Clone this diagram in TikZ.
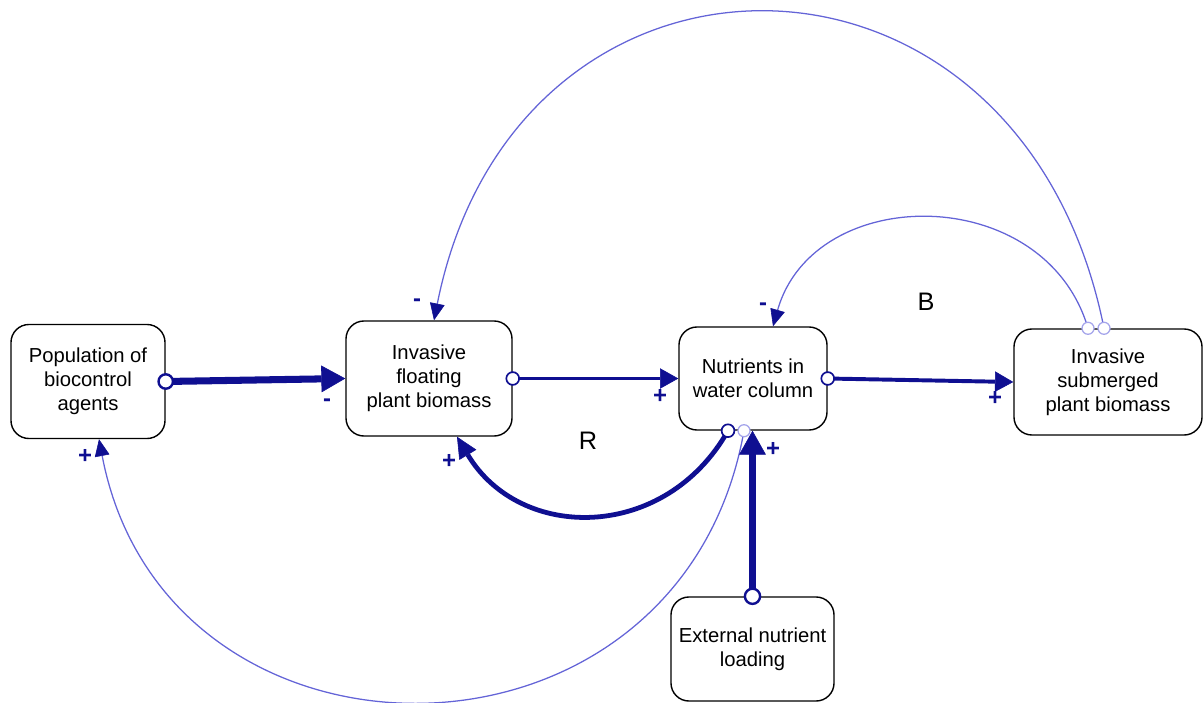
\documentclass[tikz,border=0pt]{standalone}
\usepackage{fontspec}
\setmainfont{Liberation Sans}
\usetikzlibrary{arrows.meta,calc}
\definecolor{navy}{RGB}{15,15,145}
\definecolor{lightb}{RGB}{100,100,215}
\definecolor{circb}{RGB}{165,165,235}
\begin{document}
\begin{tikzpicture}[x=0.025cm,y=-0.025cm,
  box/.style={draw=black, line width=1pt, rounded corners=0.45cm, fill=white, align=center, inner sep=0pt, font=\fontsize{14.4pt}{17.1pt}\selectfont},
  bigarr/.style={draw=navy, line width=5pt, -{Triangle[length=17pt,width=19pt,line width=0.4pt]}},
  midarr/.style={draw=navy, line width=2.8pt, -{Triangle[length=13pt,width=14.5pt,line width=0.4pt]}},
  curvarr/.style={draw=navy, line width=3.4pt, -{Triangle[length=15pt,width=14pt,line width=0.4pt]}},
  thinarr/.style={draw=lightb, line width=0.9pt, -{Triangle[length=12pt,width=10.5pt,color=navy,line width=0.4pt]}},
  dotbig/.style={draw=navy, fill=white, line width=1.7pt},
  dotmid/.style={draw=navy, fill=white, line width=1.2pt},
  dotthin/.style={draw=circb, fill=white, line width=0.9pt},
  sign/.style={text=navy, font=\fontsize{17pt}{17pt}\selectfont\bfseries, inner sep=0pt},
  looplabel/.style={font=\fontsize{18pt}{18pt}\selectfont, inner sep=0pt}
]
\useasboundingbox (0,0) rectangle (1203,703);

% boxes
\node[box, minimum width=3.85cm, minimum height=2.85cm] (pop) at (88,381.5) {Population of\\biocontrol\\agents};
\node[box, minimum width=4.15cm, minimum height=2.875cm] (float) at (429,378.5) {Invasive\\floating\\plant biomass};
\node[box, minimum width=3.7cm, minimum height=2.575cm] (nut) at (753,378.5) {Nutrients in\\water column};
\node[box, minimum width=4.7cm, minimum height=2.65cm] (sub) at (1108,382) {Invasive\\submerged\\plant biomass};
\node[box, minimum width=4.075cm, minimum height=2.6cm] (ext) at (752.5,649) {External nutrient\\loading};

% anchor points
\coordinate (bigS) at ($(sub.north)+(-4,0)$);
\coordinate (smallS) at ($(sub.north)+(-20,0)$);
\coordinate (bigE) at ($(float.north)+(5,0)$);
\coordinate (smallE) at ($(nut.north)+(20,0)$);
\coordinate (rS) at ($(nut.south)+(-25,0)$);
\coordinate (pS) at ($(nut.south)+(-9,0)$);
\coordinate (rE) at ($(float.south)+(28,0)$);
\coordinate (pE) at ($(pop.south)+(11,0)$);
\coordinate (eE) at (ext.north |- nut.south);

% curved links
\draw[thinarr] (bigS) .. controls (1020,-91) and (516,-91) .. (bigE);
\draw[thinarr] (smallS) .. controls (1045,182) and (814,182) .. (smallE);
\draw[curvarr] (rS) .. controls (665,542) and (520,542) .. (rE);
\draw[thinarr] (pS) .. controls (680,790) and (166,790) .. (pE);

% straight links
\draw[bigarr] (pop.east) -- (float.west);
\draw[midarr] (float.east) -- (nut.west);
\draw[midarr] (nut.east) -- (sub.west);

% origin circles
\draw[dotbig] (pop.east) circle[radius=0.18cm];
\draw[dotmid] (float.east) circle[radius=0.16cm];
\draw[dotmid] (nut.east) circle[radius=0.16cm];
\draw[dotmid] (rS) circle[radius=0.16cm];
\draw[dotthin] (pS) circle[radius=0.15cm];
\draw[dotthin] (bigS) circle[radius=0.15cm];
\draw[dotthin] (smallS) circle[radius=0.15cm];

\draw[bigarr] (ext.north) -- (eE);
\draw[dotbig] (ext.north) circle[radius=0.19cm];

% polarity signs
\node[sign] (s1) at (327,403) {-};
\node[sign] (s2) at (660,396) {+};
\node[sign] (s3) at (995,398) {+};
\node[sign] (s4) at (449,461) {+};
\node[sign] (s5) at (85,456) {+};
\node[sign] (s6) at (773,449) {+};
\node[sign] (s7) at (417,303) {-};
\node[sign] (s8) at (763,307) {-};

% loop labels
\node[looplabel] (lR) at (588,441) {R};
\node[looplabel] (lB) at (926,302) {B};
\end{tikzpicture}
\end{document}
